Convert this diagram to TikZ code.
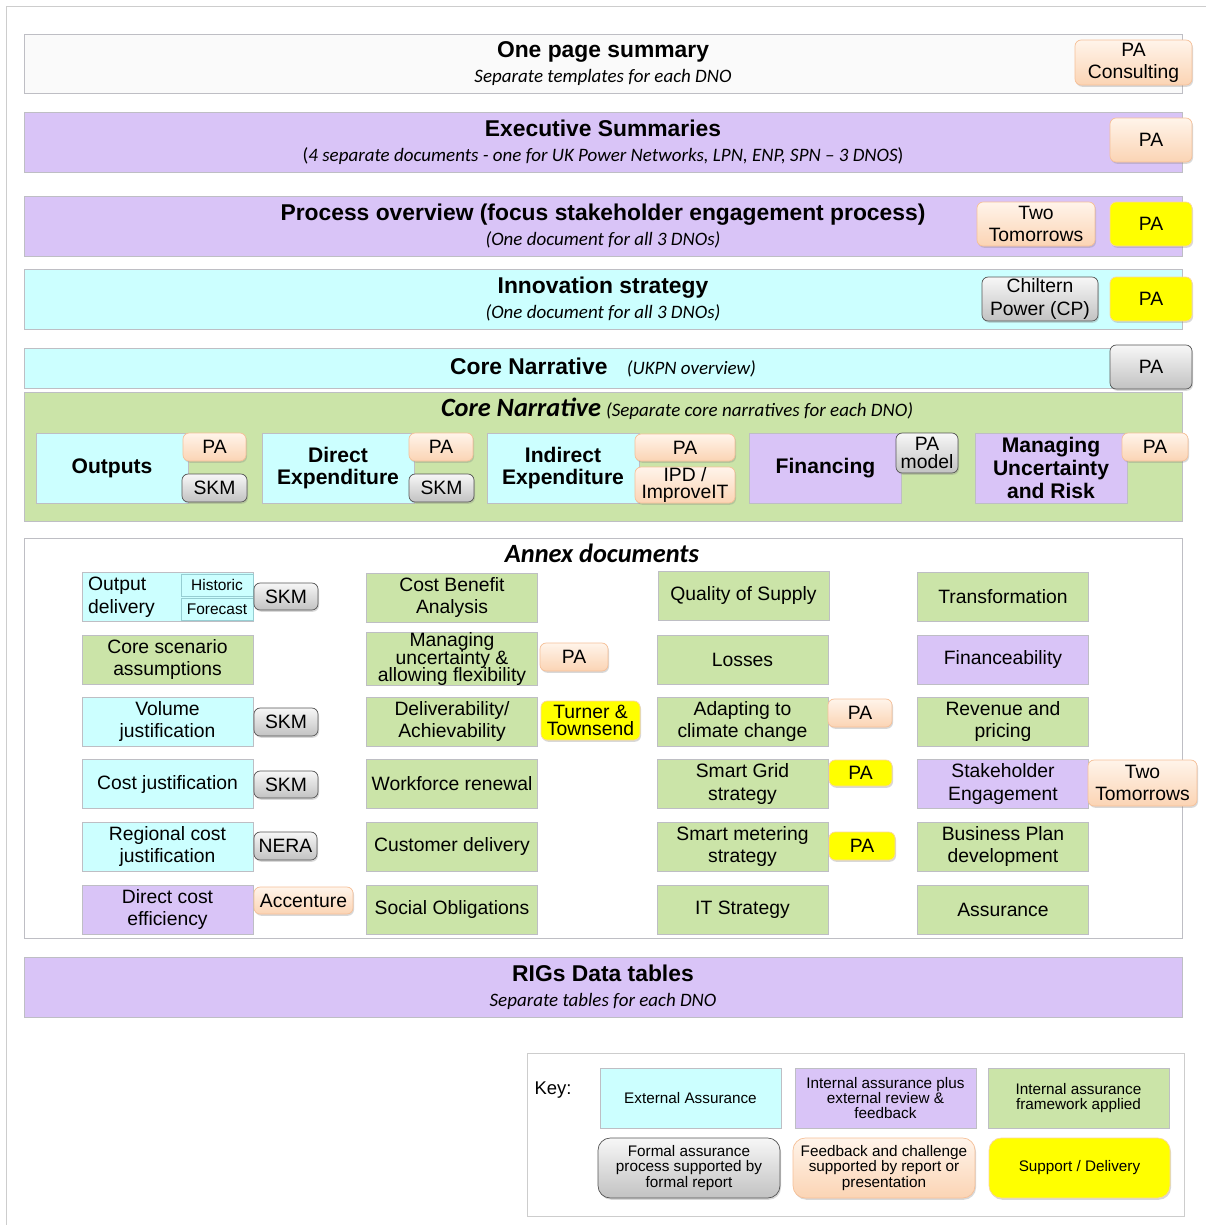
\documentclass[tikz,border=0pt]{standalone}
\usepackage{fontspec}
\setmainfont{Liberation Sans}
\newfontfamily\carlito{Carlito}
\definecolor{cyanfill}{RGB}{204,255,255}
\definecolor{lavfill}{RGB}{217,196,247}
\definecolor{greenfill}{RGB}{203,228,168}
\definecolor{paperfill}{RGB}{250,250,250}
\definecolor{docline}{RGB}{190,190,196}
\definecolor{cyanline}{RGB}{150,205,210}
\definecolor{frameline}{RGB}{205,205,205}
\definecolor{peachtop}{RGB}{255,244,234}
\definecolor{peachbot}{RGB}{251,212,180}
\definecolor{peachline}{RGB}{246,192,152}
\definecolor{graytop}{RGB}{247,247,247}
\definecolor{graybot}{RGB}{194,194,194}
\definecolor{grayline}{RGB}{85,85,85}
\definecolor{sunyellow}{RGB}{255,255,0}
\definecolor{yellowline}{RGB}{250,214,160}
\usetikzlibrary{shadows}

\newcommand\ttlf{\fontsize{13pt}{14.2pt}\selectfont\bfseries}
\newcommand\subt{\normalfont\carlito\itshape\fontsize{10.8pt}{12pt}\selectfont}
\newcommand\coref{\fontsize{12pt}{13pt}\selectfont\bfseries}
\newcommand\docf{\fontsize{11pt}{13pt}\selectfont}
\newcommand\tagf{\fontsize{11pt}{12.6pt}\selectfont}
\newcommand\tightf{\fontsize{11pt}{9.8pt}\selectfont\lineskiplimit=-20pt}
\newcommand\smallf{\fontsize{8.8pt}{10pt}\selectfont}
\newcommand\keyf{\fontsize{8.7pt}{8.6pt}\selectfont\lineskiplimit=-20pt}
\newcommand\bigitf{\carlito\bfseries\itshape\fontsize{15pt}{16pt}\selectfont}

\begin{document}
\begin{tikzpicture}[x=0.02cm,y=-0.02cm,
    wh/.style 2 args={minimum width=#1*0.02cm,minimum height=#2*0.02cm},
    band/.style={rectangle,draw=docline,inner sep=0pt,align=center,font=\ttlf},
    core/.style={rectangle,draw=docline,inner sep=0pt,align=center,font=\coref,wh={152}{70}},
    doc/.style={rectangle,draw=docline,inner sep=0pt,align=center,font=\docf,wh={171}{49}},
    tag/.style={rectangle,rounded corners=3.5pt,inner sep=0pt,align=center,font=\tagf,
        drop shadow={opacity=0.3,shadow xshift=0.6pt,shadow yshift=-1pt}},
    peachtag/.style={tag,draw=peachline,top color=peachtop,bottom color=peachbot},
    graytag/.style={tag,draw=grayline,top color=graytop,bottom color=graybot},
    yellowtag/.style={tag,draw=yellowline,fill=sunyellow},
    keybox/.style={rectangle,draw=docline,inner sep=0pt,align=center,font=\keyf,wh={181}{60}}
]
    \useasboundingbox (0,0) rectangle (1206,1225);
    \draw[frameline] (6,1225) -- (6,6) -- (1206,6);

    % top documents
    \node[band,fill=paperfill,wh={1158}{59}] (onepage) at (603,63.5) {One page summary\\{\subt Separate templates for each DNO}};
    \node[peachtag,wh={117}{45}] (onepagepa) at (1133.5,62.5) {PA\\Consulting};

    \node[band,fill=lavfill,wh={1158}{60}] (execsum) at (603,142) {Executive Summaries\\{\subt {\upshape(}4 separate documents - one for UK Power Networks, LPN, ENP, SPN – 3 DNOS{\upshape)}}};
    \node[peachtag,wh={82}{44}] (execpa) at (1151,140) {PA};

    \node[band,fill=lavfill,wh={1158}{60}] (process) at (603,226) {Process overview (focus stakeholder engagement process)\\{\subt (One document for all 3 DNOs)}};
    \node[peachtag,wh={118}{44}] (processtt) at (1036,224) {Two\\Tomorrows};
    \node[yellowtag,wh={82}{44}] (processpa) at (1151,224) {PA};

    \node[band,fill=cyanfill,wh={1158}{60}] (innov) at (603,299) {Innovation strategy\\{\subt (One document for all 3 DNOs)}};
    \node[graytag,wh={116}{44}] (innovcp) at (1040,299) {Chiltern\\Power (CP)};
    \node[yellowtag,wh={82}{44}] (innovpa) at (1151,299) {PA};

    \node[band,fill=cyanfill,wh={1158}{40}] (ukpn) at (603,368) {Core Narrative\hspace{11pt}{\subt (UKPN overview)}};
    \node[graytag,wh={82}{44}] (ukpnpa) at (1151,367) {PA};

    % core narrative per DNO
    \node[band,fill=greenfill,wh={1158}{129}] (corenar) at (603,456.5) {};
    \node[inner sep=0pt] (corenartitle) at (677,409) {{\bigitf Core Narrative} {\subt (Separate core narratives  for each DNO)}};

    \node[core,fill=cyanfill] (outputs) at (112,468) {Outputs};
    \node[peachtag,wh={63}{28}] (outputspa) at (214.5,447) {PA};
    \node[graytag,wh={65}{28}] (outputsskm) at (214.5,488) {SKM};

    \node[core,fill=cyanfill] (directexp) at (338,468) {Direct\\Expenditure};
    \node[peachtag,wh={64}{28}] (directpa) at (441,447) {PA};
    \node[graytag,wh={65}{28}] (directskm) at (441.5,488) {SKM};

    \node[core,fill=cyanfill] (indirectexp) at (563,468) {Indirect\\Expenditure};
    \node[peachtag,wh={100}{27}] (indirectpa) at (685,447.5) {PA};
    \node[peachtag,wh={100}{36},font=\tightf] (indirectipd) at (685,485) {IPD /\\ImproveIT};

    \node[core,fill=lavfill] (financing) at (825.5,468) {Financing};
    \node[graytag,wh={62}{40},font=\tightf] (financingpa) at (927,453) {PA\\model};

    \node[core,fill=lavfill] (uncertainty) at (1051,468) {Managing\\Uncertainty\\and Risk};
    \node[peachtag,wh={66}{28}] (uncertaintypa) at (1155,447) {PA};

    % annex documents
    \node[rectangle,draw=docline,fill=white,wh={1158}{400}] (annex) at (603,738) {};
    \node[font=\bigitf,inner sep=0pt] (annextitle) at (602,553) {Annex documents};

    \node[doc,fill=cyanfill] (outdel) at (167.5,597) {};
    \node[anchor=west,align=left,font=\docf] (outdeltext) at (82,597) {Output\\delivery};
    \node[rectangle,draw=cyanline,fill=cyanfill,font=\smallf,inner sep=0pt,wh={72}{22}] (historic) at (217,585) {Historic};
    \node[rectangle,draw=cyanline,fill=cyanfill,font=\smallf,inner sep=0pt,wh={72}{22}] (forecast) at (217,609) {Forecast};
    \node[graytag,wh={64}{27}] (outdelskm) at (286,596.5) {SKM};
    \node[doc,fill=greenfill] (corescen) at (167.5,659.5) {Core scenario\\assumptions};
    \node[doc,fill=cyanfill] (volume) at (167.5,721.5) {Volume\\justification};
    \node[graytag,wh={64}{28}] (volumeskm) at (286,722) {SKM};
    \node[doc,fill=cyanfill] (costjust) at (167.5,784) {Cost justification};
    \node[graytag,wh={64}{27}] (costskm) at (286,784.5) {SKM};
    \node[doc,fill=cyanfill] (regional) at (167.5,846.5) {Regional cost\\justification};
    \node[graytag,wh={63}{28}] (regionalnera) at (285.5,846) {NERA};
    \node[doc,fill=lavfill] (directeff) at (167.5,909.5) {Direct cost\\efficiency};
    \node[peachtag,wh={99}{27}] (directeffacc) at (303.5,900.5) {Accenture};

    \node[doc,fill=greenfill] (cba) at (452,597.5) {Cost Benefit\\Analysis};
    \node[doc,fill=greenfill,font=\tightf] (managunc) at (452,659) {Managing\\uncertainty \&\\allowing flexibility};
    \node[peachtag,wh={68}{28}] (managuncpa) at (574,657) {PA};
    \node[doc,fill=greenfill] (deliver) at (452,721.5) {Deliverability/\\Achievability};
    \node[yellowtag,wh={99}{39},font=\tightf] (deliverturner) at (590.5,720.5) {Turner \&\\Townsend};
    \node[doc,fill=greenfill] (workforce) at (452,784) {Workforce renewal};
    \node[doc,fill=greenfill] (custdel) at (452,846.5) {Customer delivery};
    \node[doc,fill=greenfill] (social) at (452,909.5) {Social Obligations};

    \node[doc,fill=greenfill] (quality) at (743.5,595.5) {Quality of Supply};
    \node[doc,fill=greenfill] (losses) at (742.5,659.5) {Losses};
    \node[doc,fill=greenfill] (climate) at (742.5,721.5) {Adapting to\\climate change};
    \node[peachtag,wh={64}{28}] (climatepa) at (860,713) {PA};
    \node[doc,fill=greenfill] (smartgrid) at (742.5,784) {Smart Grid\\strategy};
    \node[yellowtag,wh={63}{26}] (smartgridpa) at (860.5,773) {PA};
    \node[doc,fill=greenfill] (smartmeter) at (742.5,846.5) {Smart metering\\strategy};
    \node[yellowtag,wh={66}{28}] (smartmeterpa) at (862,846) {PA};
    \node[doc,fill=greenfill] (itstrat) at (742.5,909.5) {IT Strategy};

    \node[doc,fill=greenfill] (transform) at (1003,597) {Transformation};
    \node[doc,fill=lavfill] (finance) at (1003,659.5) {Financeability};
    \node[doc,fill=greenfill] (revenue) at (1003,721.5) {Revenue and\\pricing};
    \node[doc,fill=lavfill] (stakeholder) at (1003,784) {Stakeholder\\Engagement};
    \node[peachtag,wh={109}{46}] (stakeholdertt) at (1142.5,783) {Two\\Tomorrows};
    \node[doc,fill=greenfill] (bizplan) at (1003,846.5) {Business Plan\\development};
    \node[doc,fill=greenfill] (assurance) at (1003,909.5) {Assurance};

    % RIGs
    \node[band,fill=lavfill,wh={1158}{60}] (rigs) at (603,987) {RIGs Data tables\\{\subt Separate tables for each DNO}};

    % key
    \node[rectangle,draw=frameline,fill=white,wh={657}{163}] (keyframe) at (855.5,1134.5) {};
    \node[font=\fontsize{10.5pt}{12pt}\selectfont] (keytitle) at (553,1090) {Key:};
    \node[keybox,fill=cyanfill] (keyext) at (690.5,1098) {External Assurance};
    \node[keybox,fill=lavfill] (keyint) at (885.5,1098) {Internal assurance plus\\external review \&\\feedback};
    \node[keybox,fill=greenfill] (keyfw) at (1078.5,1098) {Internal assurance\\framework applied};
    \node[graytag,font=\keyf,rounded corners=7pt,wh={182}{60}] (keyformal) at (689,1168) {Formal assurance\\process supported by\\formal report};
    \node[peachtag,font=\keyf,rounded corners=7pt,wh={182}{60}] (keyfb) at (884,1168) {Feedback and challenge\\supported by report or\\presentation};
    \node[yellowtag,font=\keyf,rounded corners=7pt,wh={181}{60}] (keysup) at (1079.5,1168) {Support / Delivery};
\end{tikzpicture}
\end{document}
